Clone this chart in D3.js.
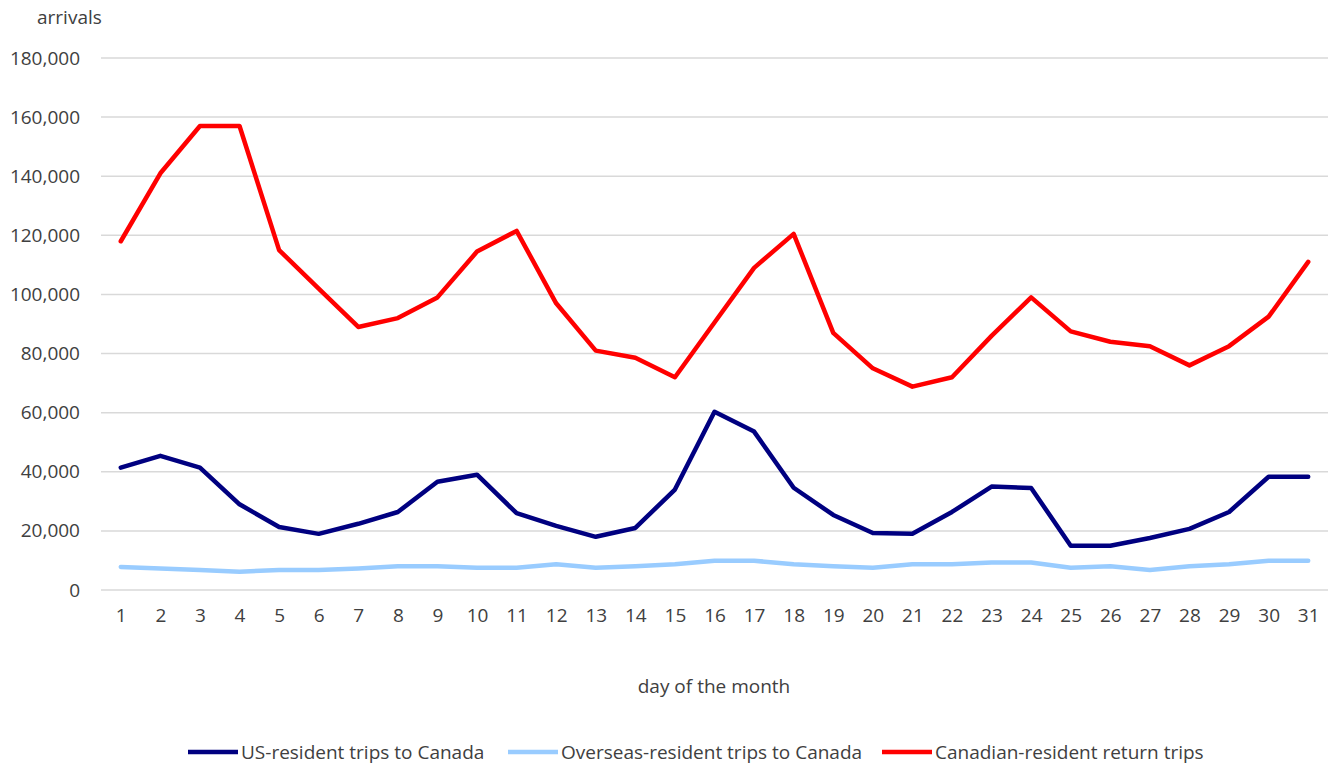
<!DOCTYPE html>
<html>
<head>
<meta charset="utf-8">
<script src="https://cdn.jsdelivr.net/npm/d3@7"></script>
<style>
  body { margin: 0; background: #fff; }
  text { font-family: "Open Sans", "Noto Sans", sans-serif; fill: #404040; }
</style>
</head>
<body>
<div id="chart"></div>
<script>
// day of month categories
const days = d3.range(1, 32);

// series values
const usResident = [41400, 45400, 41400, 29000, 21300, 19000, 22400, 26400, 36600, 39000,
  26000, 21700, 18000, 21000, 34000, 60300, 53600, 34600, 25400, 19300,
  19000, 26400, 35000, 34500, 15000, 15000, 17600, 20700, 26400, 38300, 38300];
const overseasResident = [7800, 7300, 6800, 6200, 6800, 6800, 7300, 8000, 8000, 7500,
  7500, 8700, 7500, 8000, 8700, 9900, 9900, 8700, 8000, 7500,
  8700, 8700, 9300, 9300, 7500, 8000, 6800, 8000, 8700, 9900, 9900];
const canadianReturn = [118000, 141000, 157000, 157000, 115000, 102000, 89000, 92000, 99000, 114500,
  121500, 97000, 81000, 78600, 72000, 90500, 109000, 120500, 87000, 75000,
  68800, 72000, 86000, 99000, 87500, 84000, 82500, 76000, 82500, 92500, 111000];

const yTicks = [0, 20000, 40000, 60000, 80000, 100000, 120000, 140000, 160000, 180000];

const series = [
  { name: 'US-resident trips to Canada', values: usResident, color: '#000080' },
  { name: 'Overseas-resident trips to Canada', values: overseasResident, color: '#99ccff' },
  { name: 'Canadian-resident return trips', values: canadianReturn, color: '#ff0000' }
];

const width = 1328, height = 767;
const margin = { left: 101, right: 0, top: 58, bottom: 177 };
const fontSize = 19;

const svg = d3.select('#chart').append('svg')
  .attr('width', width)
  .attr('height', height);

const x = d3.scalePoint()
  .domain(days)
  .range([margin.left, width - margin.right])
  .padding(0.5);

const y = d3.scaleLinear()
  .domain([0, 180000])
  .range([height - margin.bottom, margin.top]);

// gridlines
svg.append('g')
  .selectAll('line')
  .data(yTicks)
  .enter().append('line')
  .attr('x1', margin.left)
  .attr('x2', width - margin.right)
  .attr('y1', d => y(d))
  .attr('y2', d => y(d))
  .attr('stroke', '#d9d9d9')
  .attr('stroke-width', 1.5);

// y axis labels
const yAxis = svg.append('g')
  .attr('transform', `translate(${margin.left - 21},0)`)
  .call(d3.axisLeft(y).tickValues(yTicks).tickSize(0).tickPadding(0).tickFormat(d3.format(',')));
yAxis.select('.domain').remove();
yAxis.selectAll('text')
  .attr('font-size', fontSize)
  .attr('font-family', '"Open Sans", sans-serif')
  .attr('fill', '#404040');

// x axis labels
const xAxis = svg.append('g')
  .attr('transform', `translate(0,${y(0) + 11})`)
  .call(d3.axisBottom(x).tickSize(0).tickPadding(8));
xAxis.select('.domain').remove();
xAxis.selectAll('text')
  .attr('font-size', fontSize)
  .attr('font-family', '"Open Sans", sans-serif')
  .attr('fill', '#404040');

// axis titles
svg.append('text')
  .attr('x', 37)
  .attr('y', 24)
  .attr('font-size', fontSize)
  .text('arrivals');

svg.append('text')
  .attr('x', 714)
  .attr('y', 693)
  .attr('text-anchor', 'middle')
  .attr('font-size', fontSize)
  .text('day of the month');

// lines
const line = d3.line()
  .x((d, i) => x(days[i]))
  .y(d => y(d));

svg.append('g')
  .selectAll('path')
  .data(series)
  .enter().append('path')
  .attr('d', d => line(d.values))
  .attr('fill', 'none')
  .attr('stroke', d => d.color)
  .attr('stroke-width', 4.5)
  .attr('stroke-linejoin', 'round')
  .attr('stroke-linecap', 'round');

// legend
const legendX = [188, 508, 882];
const legend = svg.append('g')
  .selectAll('g')
  .data(series)
  .enter().append('g')
  .attr('transform', (d, i) => `translate(${legendX[i]},752)`);

legend.append('line')
  .attr('x1', 0)
  .attr('x2', 50)
  .attr('stroke', d => d.color)
  .attr('stroke-width', 4.5);

legend.append('text')
  .attr('x', 53)
  .attr('dy', '0.35em')
  .attr('font-size', fontSize)
  .text(d => d.name);
</script>
</body>
</html>
